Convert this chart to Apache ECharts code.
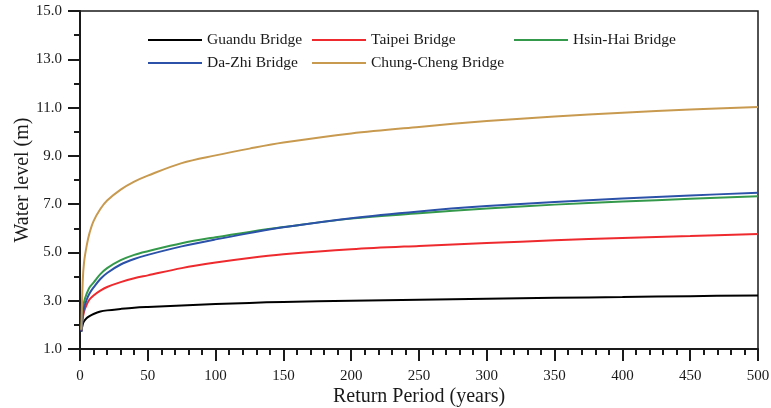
<!DOCTYPE html>
<html>
<head>
<meta charset="utf-8">
<script src="https://cdn.jsdelivr.net/npm/echarts@6/dist/echarts.min.js"></script>
<style>
  html, body { margin: 0; padding: 0; background: #ffffff; }
  #chart { width: 771px; height: 408px; }
</style>
</head>
<body>
<div id="chart"></div>
<script>
// Return periods (years) at which the water levels are given
const returnPeriods = [1, 2, 3, 5, 7, 10, 15, 20, 30, 40, 50, 75, 100, 125, 150, 200, 250, 300, 350, 400, 450, 500];

// Water level (m) for each bridge
const guandu     = [1.72, 2.02, 2.15, 2.28, 2.36, 2.45, 2.55, 2.60, 2.66, 2.71, 2.74, 2.80, 2.86, 2.91, 2.95, 3.00, 3.04, 3.08, 3.12, 3.15, 3.19, 3.22];
const taipei     = [1.75, 2.25, 2.55, 2.85, 3.05, 3.22, 3.42, 3.57, 3.77, 3.93, 4.05, 4.35, 4.58, 4.77, 4.92, 5.13, 5.27, 5.39, 5.50, 5.60, 5.68, 5.76];
const hsinHai    = [1.78, 2.60, 2.95, 3.30, 3.55, 3.75, 4.10, 4.35, 4.68, 4.90, 5.05, 5.38, 5.63, 5.85, 6.05, 6.40, 6.62, 6.82, 6.98, 7.11, 7.22, 7.33];
const daZhi      = [1.72, 2.35, 2.70, 3.05, 3.30, 3.55, 3.90, 4.15, 4.50, 4.73, 4.90, 5.25, 5.54, 5.80, 6.04, 6.42, 6.70, 6.92, 7.09, 7.23, 7.36, 7.47];
const chungCheng = [1.80, 3.80, 4.60, 5.30, 5.80, 6.30, 6.80, 7.15, 7.60, 7.93, 8.18, 8.70, 9.02, 9.30, 9.55, 9.93, 10.20, 10.44, 10.63, 10.79, 10.92, 11.02];

// Axis tick values
const xTicks = [0, 50, 100, 150, 200, 250, 300, 350, 400, 450, 500];
const yTicks = [1, 3, 5, 7, 9, 11, 13, 15];

const bridges = [
  { name: 'Guandu Bridge',      values: guandu,     color: '#000000' },
  { name: 'Taipei Bridge',      values: taipei,     color: '#ee2a2e' },
  { name: 'Hsin-Hai Bridge',    values: hsinHai,    color: '#34994a' },
  { name: 'Da-Zhi Bridge',      values: daZhi,      color: '#2b52a8' },
  { name: 'Chung-Cheng Bridge', values: chungCheng, color: '#c89a50' }
];

const FONT = '"Liberation Serif", "Times New Roman", serif';
const axisColor = '#1a1a1a';

function legendAt(left, top, names) {
  return {
    left: left, top: top, orient: 'vertical', padding: 0,
    itemWidth: 54, itemHeight: 2, itemGap: 7, icon: 'rect',
    data: names,
    textStyle: { fontFamily: FONT, fontSize: 15.5, color: '#1a1a1a' }
  };
}

const option = {
  animation: false,
  backgroundColor: '#ffffff',
  grid: {
    left: 80, right: 13, top: 11, bottom: 59,
    outerBoundsMode: 'none', containLabel: false,
    show: true, borderColor: axisColor, borderWidth: 1.5, backgroundColor: 'transparent'
  },
  legend: [
    legendAt(148, 32, ['Guandu Bridge', 'Da-Zhi Bridge']),
    legendAt(312, 32, ['Taipei Bridge', 'Chung-Cheng Bridge']),
    legendAt(514, 32, ['Hsin-Hai Bridge'])
  ],
  xAxis: {
    type: 'value', min: xTicks[0], max: xTicks[xTicks.length - 1], interval: 50,
    name: 'Return Period (years)', nameLocation: 'middle', nameGap: 38, nameMoveOverlap: false,
    nameTextStyle: { fontFamily: FONT, fontSize: 20, color: '#1a1a1a' },
    axisLine: { show: true, lineStyle: { color: axisColor, width: 2 } },
    axisTick: { show: true, length: 12, lineStyle: { color: axisColor, width: 2 } },
    minorTick: { show: true, splitNumber: 5, length: 6, lineStyle: { color: axisColor, width: 2 } },
    axisLabel: { fontFamily: FONT, fontSize: 15, color: '#1a1a1a', margin: 20 },
    splitLine: { show: false }
  },
  yAxis: [
    {
      type: 'value', min: 1, max: 15,
      name: 'Water level (m)', nameLocation: 'middle', nameGap: 47, nameMoveOverlap: false,
      nameTextStyle: { fontFamily: FONT, fontSize: 20, color: '#1a1a1a' },
      axisLine: { show: true, lineStyle: { color: axisColor, width: 2 } },
      axisTick: { show: true, length: 12, customValues: yTicks, lineStyle: { color: axisColor, width: 2 } },
      axisLabel: {
        fontFamily: FONT, fontSize: 15, color: '#1a1a1a', margin: 18,
        customValues: yTicks, formatter: v => v.toFixed(1)
      },
      splitLine: { show: false }
    },
    {
      type: 'value', min: 1, max: 15, interval: 1, position: 'left',
      axisLine: { show: false },
      axisTick: { show: true, length: 6, lineStyle: { color: axisColor, width: 2 } },
      axisLabel: { show: false },
      splitLine: { show: false }
    }
  ],
  series: bridges.map(b => ({
    name: b.name,
    type: 'line',
    yAxisIndex: 0,
    data: returnPeriods.map((t, i) => [t, b.values[i]]),
    smooth: 0.35,
    showSymbol: false,
    symbol: 'none',
    lineStyle: { color: b.color, width: 2 },
    itemStyle: { color: b.color }
  }))
};

echarts.init(document.getElementById('chart'), null, { renderer: 'canvas' }).setOption(option);
</script>
</body>
</html>
